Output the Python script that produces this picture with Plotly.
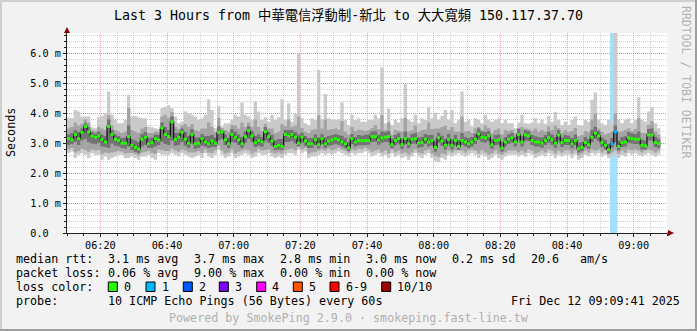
import plotly.graph_objects as go
from datetime import datetime, timedelta

# ---------------- data (ms), one value per minute starting 06:10 ----------------
T_START = datetime(2025, 12, 12, 6, 10)
X_END = datetime(2025, 12, 12, 9, 10)
Y_MAX = 6.7

MED = [3.16,3.12,3.30,3.16,3.37,3.57,3.39,3.25,3.21,3.25, 3.14,3.05,3.57,3.30,3.14,3.10,3.01,3.01,3.23,2.94,
       2.87,2.81,3.14,3.21,2.99,3.03,3.16,3.12,3.52,3.30, 3.23,3.72,3.14,3.21,3.37,3.14,3.01,3.30,2.99,3.01,
       3.16,3.05,2.99,3.08,
       3.01,3.37,3.39,3.12,2.99,3.30,3.21,3.12,2.99,3.23, 3.43,3.25,3.03,3.10,3.05,3.39,3.23,3.08,2.90,2.94,
       2.90,3.30,3.25,3.30,3.21,3.01,3.21,3.08,2.99,2.99, 3.12,2.96,3.16,2.99,3.08,3.12,3.16,3.12,3.05,2.99,
       2.85,3.16,3.05,3.10,3.10,
       3.10,3.10,3.23,3.23,3.12,3.19,3.21,3.23,2.96,3.10, 3.16,2.96,3.16,2.99,3.14,3.16,3.01,3.03,3.14,3.05,
       3.10,2.87,3.19,3.08,2.94,3.14,2.94,3.10,2.90,3.10, 3.05,2.99,3.05,3.14,3.32,3.21,3.19,3.25,2.96,3.10,
       3.12,2.85,3.05,3.14,3.19,
       3.05,3.30,3.05,3.28,3.25,3.10,3.05,3.05,3.01,3.10, 3.19,3.12,3.01,3.28,3.03,3.10,3.10,2.99,3.10,2.83,
       2.87,3.03,2.96,3.21,3.34,3.25,3.03,2.94,2.79,2.99, 3.39,2.90,3.03,3.05,3.19,3.16,3.14,3.14,2.94,2.92,
       3.28,3.28,3.03,2.99]

HI1 = [3.84,3.84,4.12,4.07,3.90,3.90,3.90,3.54,3.51,3.88, 3.92,4.01,4.74,3.96,3.79,3.68,3.68,3.79,4.63,3.90,
       3.92,3.88,3.84,3.84,3.57,3.54,3.51,3.48,4.18,4.23, 4.29,4.18,3.90,3.68,3.73,4.07,4.01,3.96,3.90,3.79,
       3.84,3.96,4.48,4.12,
       3.51,4.26,3.57,3.68,3.68,3.79,3.96,3.90,4.37,3.96, 3.90,3.79,4.40,4.07,3.79,3.88,3.73,3.96,3.79,3.88,
       4.48,3.79,4.35,3.73,4.00,6.02,3.84,3.68,3.62,3.84, 3.79,5.46,3.81,4.66,3.84,3.81,3.79,3.81,4.37,3.79,
       3.62,3.96,3.79,3.84,3.73,
       3.73,3.79,3.79,3.96,3.84,5.55,3.68,4.16,3.62,3.79, 3.70,3.84,4.98,3.79,3.73,3.96,3.68,3.84,3.79,4.21,
       3.84,4.03,3.79,3.92,4.12,3.79,4.12,3.68,3.79,4.74, 3.73,3.79,3.57,3.84,3.79,3.68,3.96,3.79,3.73,3.79,
       3.84,3.68,3.79,3.68,3.68,
       3.51,3.70,3.96,3.68,3.66,3.70,3.84,3.68,3.79,3.66, 3.92,3.73,4.05,3.79,3.62,3.73,3.62,3.79,3.90,3.62,
       3.59,3.79,3.73,4.46,4.71,3.79,3.68,3.62,3.79,3.68, 8.00,3.79,3.68,3.79,3.84,3.68,3.79,4.55,3.79,3.73,
       4.07,4.21,3.68,3.51]

LO1 = [2.67,2.73,2.51,2.62,2.67,2.62,2.51,2.67,2.62,2.62, 2.45,2.56,2.45,2.51,2.56,2.62,2.62,2.51,2.51,2.56,
       2.51,2.45,2.56,2.56,2.62,2.51,2.45,2.67,2.62,2.62, 2.62,2.67,2.62,2.56,2.67,2.62,2.56,2.51,2.56,2.62,
       2.51,2.67,2.56,2.51,
       2.62,2.79,2.62,2.51,2.56,2.67,2.51,2.56,2.62,2.67, 2.62,2.51,2.56,2.67,2.62,2.62,2.67,2.56,2.51,2.56,
       2.51,2.62,2.67,2.67,2.62,2.79,2.67,2.73,2.51,2.56, 2.56,2.62,2.67,2.62,2.67,2.62,2.67,2.73,2.67,2.62,
       2.56,2.67,2.62,2.67,2.67,
       2.73,2.67,2.56,2.62,2.67,2.56,2.62,2.51,2.67,2.56, 2.62,2.51,2.56,2.45,2.56,2.67,2.56,2.51,2.62,2.67,
       2.51,2.40,2.36,2.51,2.45,2.62,2.56,2.62,2.67,2.62, 2.56,2.62,2.67,2.62,2.51,2.62,2.56,2.45,2.51,2.62,
       2.51,2.45,2.56,2.62,2.62,
       2.62,2.56,2.62,2.56,2.67,2.62,2.51,2.56,2.62,2.56, 2.67,2.62,2.51,2.62,2.56,2.62,2.62,2.51,2.62,2.45,
       2.51,2.62,2.56,2.67,2.62,2.67,2.56,2.62,2.51,2.56, 2.62,2.51,2.62,2.56,2.67,2.62,2.67,2.62,2.56,2.62,
       2.67,2.62,2.56,2.62]

HI2 = [3.50,3.55,3.70,3.60,3.65,3.80,3.70,3.45,3.42,3.55, 3.50,3.45,3.95,3.60,3.45,3.40,3.35,3.40,4.20,3.45,
       3.40,3.35,3.50,3.55,3.35,3.35,3.40,3.38,3.90,3.95, 3.85,4.05,3.55,3.48,3.60,3.65,3.55,3.65,3.45,3.42,
       3.50,3.50,3.70,3.55,
       3.38,3.85,3.52,3.45,3.40,3.62,3.60,3.50,3.70,3.55, 3.70,3.55,3.80,3.55,3.42,3.65,3.50,3.50,3.35,3.40,
       3.65,3.58,3.80,3.55,3.60,3.90,3.52,3.40,3.35,3.45, 3.48,3.95,3.50,3.80,3.45,3.48,3.50,3.46,3.75,3.40,
       3.30,3.55,3.42,3.46,3.44,
       3.42,3.45,3.52,3.62,3.48,3.95,3.45,3.70,3.30,3.45, 3.42,3.40,3.85,3.40,3.44,3.60,3.38,3.45,3.46,3.70,
       3.48,3.50,3.50,3.55,3.60,3.45,3.55,3.40,3.40,3.90, 3.40,3.42,3.35,3.50,3.55,3.45,3.60,3.52,3.35,3.45,
       3.50,3.30,3.44,3.42,3.45,
       3.35,3.52,3.55,3.50,3.48,3.42,3.50,3.40,3.45,3.40, 3.58,3.45,3.60,3.52,3.35,3.45,3.38,3.42,3.52,3.25,
       3.28,3.42,3.38,3.80,4.00,3.50,3.38,3.30,3.35,3.40, 4.00,3.38,3.40,3.45,3.50,3.42,3.48,3.85,3.35,3.35,
       3.62,3.75,3.40,3.30]

LO2 = [2.80,2.85,2.70,2.75,2.82,2.78,2.72,2.80,2.76,2.78, 2.65,2.70,2.68,2.70,2.72,2.75,2.72,2.66,2.68,2.68,
       2.65,2.60,2.70,2.72,2.75,2.68,2.65,2.80,2.78,2.75, 2.75,2.82,2.76,2.72,2.80,2.76,2.70,2.70,2.70,2.75,
       2.68,2.80,2.70,2.68,
       2.76,2.92,2.76,2.66,2.70,2.80,2.66,2.72,2.76,2.80, 2.76,2.66,2.72,2.82,2.76,2.78,2.80,2.70,2.66,2.70,
       2.66,2.76,2.80,2.82,2.76,2.90,2.80,2.86,2.66,2.70, 2.72,2.76,2.80,2.76,2.82,2.76,2.80,2.86,2.80,2.76,
       2.70,2.80,2.76,2.82,2.80,
       2.86,2.80,2.72,2.76,2.80,2.70,2.76,2.66,2.80,2.70, 2.76,2.66,2.70,2.62,2.70,2.80,2.70,2.66,2.76,2.80,
       2.66,2.58,2.55,2.66,2.62,2.76,2.70,2.76,2.80,2.76, 2.70,2.76,2.80,2.76,2.66,2.76,2.70,2.62,2.66,2.76,
       2.66,2.62,2.70,2.76,2.76,
       2.76,2.70,2.76,2.70,2.80,2.76,2.66,2.70,2.76,2.70, 2.80,2.76,2.66,2.76,2.70,2.76,2.76,2.66,2.76,2.60,
       2.66,2.76,2.70,2.80,2.76,2.80,2.70,2.76,2.64,2.70, 2.76,2.66,2.76,2.70,2.80,2.76,2.80,2.76,2.70,2.76,
       2.80,2.76,2.70,2.76]

HI3 = [3.30,3.35,3.45,3.38,3.50,3.68,3.55,3.38,3.33,3.40, 3.30,3.25,3.80,3.45,3.30,3.25,3.18,3.20,3.60,3.15,
       3.10,3.05,3.32,3.38,3.18,3.20,3.30,3.28,3.70,3.55, 3.45,3.90,3.35,3.35,3.50,3.38,3.25,3.48,3.20,3.20,
       3.32,3.25,3.25,3.28,
       3.20,3.58,3.45,3.30,3.18,3.48,3.40,3.30,3.22,3.40, 3.58,3.42,3.25,3.30,3.22,3.55,3.38,3.28,3.10,3.15,
       3.15,3.45,3.45,3.45,3.38,3.30,3.36,3.25,3.18,3.18, 3.30,3.20,3.32,3.20,3.25,3.28,3.32,3.28,3.25,3.18,
       3.05,3.32,3.22,3.28,3.26,
       3.28,3.30,3.40,3.42,3.30,3.40,3.38,3.42,3.15,3.28, 3.34,3.15,3.40,3.18,3.32,3.35,3.20,3.22,3.32,3.28,
       3.28,3.08,3.36,3.26,3.15,3.32,3.15,3.28,3.10,3.35, 3.22,3.18,3.22,3.32,3.50,3.40,3.38,3.42,3.15,3.28,
       3.30,3.05,3.22,3.30,3.36,
       3.22,3.48,3.25,3.45,3.42,3.28,3.24,3.22,3.20,3.28, 3.38,3.30,3.22,3.45,3.20,3.28,3.26,3.18,3.30,3.02,
       3.05,3.22,3.15,3.45,3.55,3.42,3.20,3.12,2.98,3.18, 3.60,3.10,3.22,3.24,3.38,3.34,3.32,3.40,3.12,3.10,
       3.48,3.50,3.22,3.16]

LO3 = [2.95,2.98,3.05,2.95,3.10,3.15,3.05,3.00,2.98,3.02, 2.90,2.88,2.85,3.00,2.92,2.90,2.85,2.82,2.90,2.78,
       2.72,2.68,2.90,2.95,2.85,2.85,2.90,2.95,3.05,2.98, 2.95,3.10,2.92,2.95,3.05,2.92,2.85,3.00,2.82,2.85,
       2.92,2.90,2.85,2.88,
       2.88,3.10,3.15,2.95,2.85,3.05,3.02,2.95,2.85,3.02, 3.15,3.05,2.88,2.92,2.90,3.10,3.02,2.92,2.78,2.80,
       2.78,3.05,3.05,3.08,3.00,2.90,3.02,2.92,2.85,2.85, 2.95,2.84,2.98,2.85,2.92,2.95,2.98,2.95,2.90,2.85,
       2.75,2.98,2.90,2.94,2.94,
       2.95,2.96,3.05,3.06,2.96,3.02,3.05,3.05,2.84,2.94, 3.00,2.82,2.98,2.85,2.98,3.00,2.86,2.88,2.98,2.90,
       2.94,2.72,3.02,2.92,2.80,2.98,2.80,2.95,2.78,2.95, 2.90,2.85,2.90,2.98,3.12,3.05,3.02,3.08,2.82,2.94,
       2.96,2.72,2.90,2.98,3.02,
       2.90,3.12,2.90,3.10,3.08,2.95,2.90,2.90,2.86,2.95, 3.02,2.96,2.86,3.10,2.88,2.95,2.94,2.84,2.95,2.70,
       2.74,2.88,2.82,3.05,3.15,3.08,2.88,2.80,2.66,2.85, 3.05,2.76,2.88,2.90,3.02,3.00,2.98,2.98,2.80,2.80,
       3.10,3.10,2.88,2.85]

# minutes (index) with packet loss, and lost pings out of 10
LOSS_MIN = [163, 164]
LOSS_PINGS = [1, 1]

Y_TICKS = [0, 1, 2, 3, 4, 5, 6]
Y_TICK_LABELS = ["0.0\u00a0\u00a0", "1.0 m", "2.0 m", "3.0 m", "4.0 m", "5.0 m", "6.0 m"]

LOSS_LABELS = ["0", "1", "2", "3", "4", "5", "6-9", "10/10"]
LOSS_COLORS = ["#26ff00", "#00b8ff", "#0059ff", "#7e00ff", "#ff00ff", "#ff5500", "#ff0000", "#a10000"]

# ---------------- figure ----------------
MONO = "DejaVu Sans Mono"
TITLE_FONT = "DejaVu Sans Mono, Noto Sans CJK TC"
N = len(MED)
edges = [T_START + timedelta(minutes=k) for k in range(N + 1)]


def stepped(vals):
    return list(vals) + [vals[-1]]


fig = go.Figure()

# loss background bars (full height)
fig.add_trace(go.Bar(
    x=[edges[k] for k in LOSS_MIN], y=[Y_MAX] * len(LOSS_MIN), base=0,
    width=60000, offset=0, marker=dict(color="#a6e0f8", line=dict(width=0)),
    hoverinfo="skip", showlegend=False))

# smoke bands
for lo, hi, col in [(LO1, HI1, "#cacaca"), (LO2, HI2, "#a4a4a4"), (LO3, HI3, "#737373")]:
    fig.add_trace(go.Scatter(x=edges, y=stepped(lo), mode="lines",
                             line=dict(width=0, shape="hv"), hoverinfo="skip", showlegend=False))
    fig.add_trace(go.Scatter(x=edges, y=stepped(hi), mode="lines",
                             line=dict(width=0, shape="hv"), fill="tonexty", fillcolor=col,
                             hoverinfo="skip", showlegend=False))

# median connector (dark)
fig.add_trace(go.Scatter(x=edges, y=stepped(MED), mode="lines",
                         line=dict(color="#1a1a1a", width=1.3, shape="hv"),
                         hoverinfo="skip", showlegend=False))

# median markers coloured by loss
seg = {}
for k, m in enumerate(MED):
    lost = LOSS_PINGS[LOSS_MIN.index(k)] if k in LOSS_MIN else 0
    c = LOSS_COLORS[min(lost, 7)]
    sx, sy = seg.setdefault(c, ([], []))
    sx += [edges[k], edges[k + 1], None]
    sy += [m, m, None]
for c, (sx, sy) in seg.items():
    fig.add_trace(go.Scatter(x=sx, y=sy, mode="lines", line=dict(color=c, width=2.8),
                             connectgaps=False, hoverinfo="skip", showlegend=False))

GRID = "rgba(160,160,160,0.5)"
MGRID = "rgba(215,90,90,0.55)"

fig.update_layout(
    width=697, height=331,
    margin=dict(l=67, r=30, t=33, b=98),
    paper_bgcolor="#f2f2f2", plot_bgcolor="#ffffff",
    showlegend=False, bargap=0, barmode="overlay",
)

fig.update_xaxes(
    type="date", range=[T_START, X_END],
    tickmode="linear", tick0="2025-12-12 06:20:00", dtick=20 * 60 * 1000,
    tickformat="%H:%M", tickfont=dict(family=MONO, size=10.2, color="#000000"),
    showgrid=True, gridcolor=MGRID, gridwidth=1, griddash="1px,1px",
    minor=dict(dtick=5 * 60 * 1000, tick0="2025-12-12 06:10:00", showgrid=True,
               gridcolor=GRID, gridwidth=1, griddash="1px,1px",
               ticks="outside", ticklen=2, tickcolor="#202020"),
    showline=True, linecolor="#202020", linewidth=1,
    ticks="outside", ticklen=3, tickcolor="#202020",
    zeroline=False, fixedrange=True,
)

fig.update_yaxes(
    range=[0, Y_MAX], tickmode="array", tickvals=Y_TICKS, ticktext=Y_TICK_LABELS,
    tickfont=dict(family=MONO, size=10.2, color="#000000"),
    showgrid=True, gridcolor=MGRID, gridwidth=1, griddash="1px,1px",
    minor=dict(tickmode="linear", dtick=0.2, tick0=0, showgrid=True,
               gridcolor=GRID, gridwidth=1, griddash="1px,1px",
               ticks="outside", ticklen=2, tickcolor="#202020"),
    showline=True, linecolor="#202020", linewidth=1,
    ticks="outside", ticklen=3, tickcolor="#202020",
    zeroline=False, fixedrange=True,
)


def PX(px):
    return (px - 67) / 600.0


def PY(py):
    return (233 - py) / 200.0


def txt(s, px, py, size=11.7, color="#000000", anchor="left", angle=0, family=MONO):
    fig.add_annotation(x=PX(px), y=PY(py), xref="paper", yref="paper", text=s,
                       showarrow=False, xanchor=anchor, yanchor="middle",
                       font=dict(family=family, size=size, color=color),
                       borderpad=0, textangle=angle)


shapes = []
# frame shading
shapes.append(dict(type="rect", xref="paper", yref="paper", x0=PX(0), x1=PX(697), y0=PY(0), y1=PY(2),
                   fillcolor="#cfcfcf", line=dict(width=0), layer="below"))
shapes.append(dict(type="rect", xref="paper", yref="paper", x0=PX(0), x1=PX(2), y0=PY(0), y1=PY(331),
                   fillcolor="#cfcfcf", line=dict(width=0), layer="below"))
shapes.append(dict(type="rect", xref="paper", yref="paper", x0=PX(695), x1=PX(697), y0=PY(0), y1=PY(331),
                   fillcolor="#9e9e9e", line=dict(width=0), layer="below"))
shapes.append(dict(type="rect", xref="paper", yref="paper", x0=PX(0), x1=PX(697), y0=PY(329), y1=PY(331),
                   fillcolor="#9e9e9e", line=dict(width=0), layer="below"))
# axis extension + arrows
shapes.append(dict(type="line", xref="paper", yref="paper", x0=PX(667), x1=PX(669), y0=PY(233), y1=PY(233),
                   line=dict(color="#202020", width=1)))
shapes.append(dict(type="path", xref="paper", yref="paper",
                   path=f"M {PX(64)},{PY(33)} L {PX(70)},{PY(33)} L {PX(67)},{PY(27)} Z",
                   fillcolor="#8b0000", line=dict(width=0)))
shapes.append(dict(type="path", xref="paper", yref="paper",
                   path=f"M {PX(668)},{PY(230)} L {PX(668)},{PY(236)} L {PX(674)},{PY(233)} Z",
                   fillcolor="#8b0000", line=dict(width=0)))

# legend squares
SQ_X = [108.3, 146, 183.3, 219.3, 256.7, 293.3, 330, 381.7]
for sx, lab, col in zip(SQ_X, LOSS_LABELS, LOSS_COLORS):
    shapes.append(dict(type="rect", xref="paper", yref="paper",
                       x0=PX(sx), x1=PX(sx + 9), y0=PY(282), y1=PY(291.5),
                       fillcolor=col, line=dict(color="#000000", width=1)))
    txt(lab, sx + 14.5, 287)
fig.update_layout(shapes=shapes)

# texts
txt("Last 3 Hours from 中華電信浮動制-新北 to 大大寬頻 150.117.37.70", 348, 15, size=13.3,
    anchor="center", family=TITLE_FONT)
txt("RRDTOOL / TOBI OETIKER", 686, 82, size=11.5, color="#b2b2b2", anchor="center", angle=90)
txt("Seconds", 10.5, 132.5, angle=-90, anchor="center")

L1 = 259.3
L2 = 273.3
L3 = 287
L4 = 301.3
for s, x in [("median rtt:", 15.3), ("3.1 ms avg", 106.6), ("3.7 ms max", 192.6), ("2.8 ms min", 278.6),
             ("3.0 ms now", 365.3), ("0.2 ms sd", 451), ("20.6", 530), ("am/s", 578.6)]:
    txt(s, x, L1)
for s, x in [("packet loss:", 15.3), ("0.06 % avg", 106.6), ("9.00 % max", 192.6), ("0.00 % min", 278.6),
             ("0.00 % now", 365.3)]:
    txt(s, x, L2)
txt("loss color:", 15.3, L3)
txt("probe:", 15.3, L4)
txt("10 ICMP Echo Pings (56 Bytes) every 60s", 106.6, L4)
txt("Fri Dec 12 09:09:41 2025", 681, L4, anchor="right")
txt("Powered by SmokePing 2.9.0 \u00b7 smokeping.fast-line.tw", 348.7, 318.3, color="#b0b0b0", anchor="center")

fig.write_html("out.html")
